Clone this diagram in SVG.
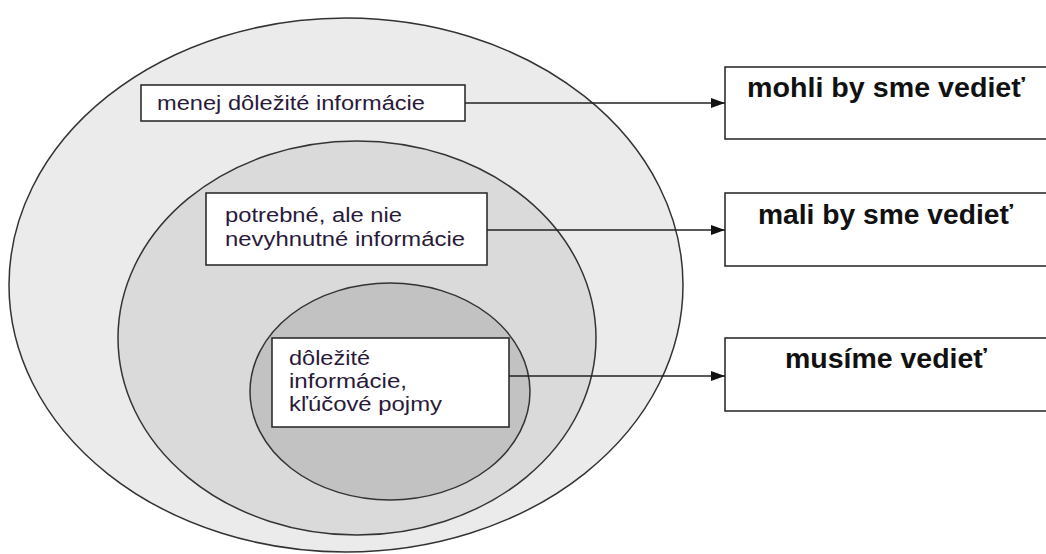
<svg xmlns="http://www.w3.org/2000/svg" width="1046" height="554" viewBox="0 0 1046 554">
<style>
.ell{stroke:#333;stroke-width:1.5}
.box{fill:#fff;stroke:#222;stroke-width:1.5}
.t{font-family:"Liberation Sans",Arial,sans-serif;font-size:20px;fill:#2a1a3a}
.b{font-family:"Liberation Sans",Arial,sans-serif;font-size:27px;font-weight:bold;fill:#111}
.c{stroke:#222;stroke-width:1.5;fill:none}
</style>
<defs>
<marker id="ah" markerWidth="14" markerHeight="10" refX="14" refY="5" orient="auto" markerUnits="userSpaceOnUse" viewBox="0 0 14 10">
<path d="M0,0 L14,5 L0,10 z" fill="#111"/>
</marker>
</defs>
<rect width="1046" height="554" fill="#fff"/>
<g id="ellipses">
<ellipse class="ell" cx="346" cy="285" rx="337" ry="267" fill="#ebebec"/>
<ellipse class="ell" cx="357" cy="338" rx="239" ry="197" fill="#dadada"/>
<ellipse class="ell" cx="390" cy="391.5" rx="140" ry="108.5" fill="#c2c2c2"/>
</g>
<g id="connectors">
<line class="c" x1="465" y1="103" x2="725" y2="103" marker-end="url(#ah)"/>
<line class="c" x1="487" y1="230" x2="725" y2="230" marker-end="url(#ah)"/>
<line class="c" x1="509" y1="376" x2="725" y2="376" marker-end="url(#ah)"/>
</g>
<g id="node-menej">
<rect class="box" x="141" y="85" width="324" height="36"/>
<text class="t" x="157" y="110" textLength="268" lengthAdjust="spacingAndGlyphs">menej dôležité informácie</text>
</g>
<g id="node-potrebne">
<rect class="box" x="206" y="193" width="281" height="72"/>
<text class="t" x="225" y="222" textLength="177" lengthAdjust="spacingAndGlyphs">potrebné, ale nie</text>
<text class="t" x="225" y="246" textLength="240" lengthAdjust="spacingAndGlyphs">nevyhnutné informácie</text>
</g>
<g id="node-dolezite">
<rect class="box" x="272" y="338" width="237" height="89"/>
<text class="t" x="289" y="365" textLength="81" lengthAdjust="spacingAndGlyphs">dôležité</text>
<text class="t" x="289" y="388" textLength="118" lengthAdjust="spacingAndGlyphs">informácie,</text>
<text class="t" x="289" y="411" textLength="153" lengthAdjust="spacingAndGlyphs">kľúčové pojmy</text>
</g>
<g id="node-mohli">
<rect class="box" x="725" y="67" width="330" height="72"/>
<text class="b" x="747" y="97" textLength="278" lengthAdjust="spacingAndGlyphs">mohli by sme vedieť</text>
</g>
<g id="node-mali">
<rect class="box" x="725" y="193" width="330" height="73"/>
<text class="b" x="758" y="224" textLength="255" lengthAdjust="spacingAndGlyphs">mali by sme vedieť</text>
</g>
<g id="node-musime">
<rect class="box" x="725" y="338" width="330" height="73"/>
<text class="b" x="785" y="368" textLength="202" lengthAdjust="spacingAndGlyphs">musíme vedieť</text>
</g>
</svg>
